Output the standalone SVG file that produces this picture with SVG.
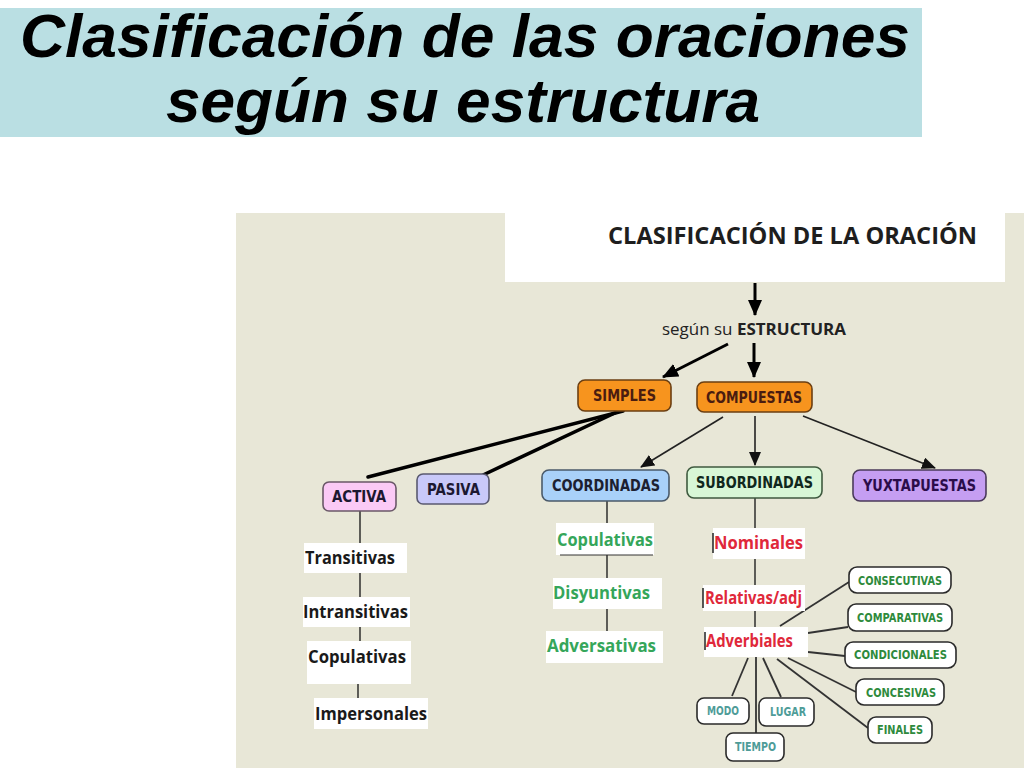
<svg xmlns="http://www.w3.org/2000/svg" width="1024" height="768" viewBox="0 0 1024 768">
<defs>
<style>
.title{font-family:"Liberation Sans",Arial,sans-serif;font-weight:bold;font-style:italic;font-size:62px;fill:#000}
.lbl{font-family:"DejaVu Sans",Verdana,sans-serif;font-weight:bold;font-size:15px}
.sm{font-family:"DejaVu Sans",Verdana,sans-serif;font-weight:bold;font-size:11.5px;fill:#2e8a3c}
.teal{fill:#4e9c98}
.cal{font-family:"Open Sans","Liberation Sans",sans-serif;font-weight:700;font-size:18px}
.blk{fill:#1a1a1a}
.grn{fill:#35a65a}
.red{fill:#e0283a}
.wbox{fill:#ffffff}
.box{stroke-width:1.6}
.sbox{fill:#ffffff;stroke:#2a2a2a;stroke-width:1.6}
.thick{stroke:#000;stroke-width:3.5;fill:none;stroke-linecap:round}
.arrowT{stroke:#000;stroke-width:3;fill:none}
.arrowt{stroke:#222;stroke-width:1.6;fill:none}
.ln{stroke:#222;stroke-width:1.4;fill:none}
.ln2{stroke:#333;stroke-width:1.8;fill:none}
</style>
<marker id="hb" markerUnits="userSpaceOnUse" markerWidth="16" markerHeight="14" refX="15" refY="7" orient="auto">
<path d="M0,0 L16,7 L0,14 z" fill="#000"/>
</marker>
<marker id="hs" markerUnits="userSpaceOnUse" markerWidth="14" markerHeight="12" refX="13" refY="6" orient="auto">
<path d="M0,0 L14,6 L0,12 z" fill="#111"/>
</marker>
</defs>

<rect x="0" y="0" width="1024" height="768" fill="#ffffff"/>

<g id="title">
<rect x="0" y="8" width="922" height="129" fill="#badfe3"/>
<text class="title" x="20" y="57" textLength="890" lengthAdjust="spacingAndGlyphs">Clasificación de las oraciones</text>
<text class="title" x="166" y="122" textLength="594" lengthAdjust="spacingAndGlyphs">según su estructura</text>
</g>

<rect id="panel" x="236" y="213" width="788" height="555" fill="#e8e7d7"/>

<g id="connectors">
<line class="arrowT" x1="755" y1="283" x2="755" y2="315" marker-end="url(#hb)"/>
<line class="arrowT" x1="754" y1="343" x2="754" y2="377" marker-end="url(#hb)"/>
<line class="arrowT" x1="728" y1="344" x2="663" y2="377" stroke-width="2.5" marker-end="url(#hb)"/>
<line class="thick" x1="623" y1="411" x2="368" y2="477"/>
<line class="thick" x1="617" y1="412" x2="483" y2="475"/>
<line class="arrowt" x1="723" y1="417" x2="641" y2="467" marker-end="url(#hs)"/>
<line class="arrowt" x1="755" y1="416" x2="755" y2="465" marker-end="url(#hs)"/>
<line class="arrowt" x1="803" y1="416" x2="935" y2="468" marker-end="url(#hs)"/>
<line class="ln" x1="360" y1="511" x2="360" y2="543"/>
<line class="ln" x1="360" y1="573" x2="360" y2="597"/>
<line class="ln" x1="360" y1="627" x2="360" y2="641"/>
<line class="ln" x1="358" y1="684" x2="358" y2="698"/>
<line class="ln" x1="607" y1="501" x2="607" y2="525"/>
<line class="ln" x1="607" y1="555" x2="607" y2="578"/>
<line class="ln" x1="607" y1="609" x2="607" y2="631"/>
<line class="ln" x1="755" y1="498" x2="755" y2="528"/>
<line class="ln" x1="755" y1="559" x2="755" y2="585"/>
<line class="ln" x1="755" y1="611" x2="755" y2="627"/>
<line class="ln2" x1="780" y1="626" x2="849" y2="582"/>
<line class="ln2" x1="808" y1="633" x2="848" y2="627"/>
<line class="ln2" x1="808" y1="652" x2="845" y2="656"/>
<line class="ln2" x1="788" y1="658" x2="856" y2="692"/>
<line class="ln2" x1="777" y1="659" x2="868" y2="728"/>
<line class="ln2" x1="748" y1="658" x2="732" y2="696"/>
<line class="ln2" x1="756" y1="657" x2="756" y2="733"/>
<line class="ln2" x1="763" y1="658" x2="781" y2="697"/>
</g>

<g id="clasificacion">
<rect x="505" y="213" width="500" height="69" fill="#ffffff"/>
<text x="608" y="244" font-family="'Open Sans','Liberation Sans',sans-serif" font-weight="700" font-size="23" fill="#1e1e1e" textLength="369" lengthAdjust="spacingAndGlyphs">CLASIFICACIÓN DE LA ORACIÓN</text>
</g>

<g id="segun">
<text x="662" y="335" font-family="'Open Sans','Liberation Sans',sans-serif" font-size="15.5" fill="#222" textLength="184" lengthAdjust="spacingAndGlyphs">según su <tspan font-weight="700">ESTRUCTURA</tspan></text>
</g>

<g id="simples">
<rect class="box" x="578" y="380" width="93" height="31" rx="7" fill="#f7941e" stroke="#6b3f12"/>
<text class="lbl" x="593" y="401" fill="#4a1c10" textLength="63" lengthAdjust="spacingAndGlyphs">SIMPLES</text>
</g>
<g id="compuestas">
<rect class="box" x="697" y="382" width="115" height="30" rx="7" fill="#f7941e" stroke="#6b3f12"/>
<text class="lbl" x="706" y="403" fill="#4a1c10" textLength="96" lengthAdjust="spacingAndGlyphs">COMPUESTAS</text>
</g>
<g id="activa">
<rect class="box" x="323" y="482" width="73" height="29" rx="6" fill="#fbcaf6" stroke="#6a5868"/>
<text class="lbl" x="332" y="502" fill="#1c1830" textLength="54" lengthAdjust="spacingAndGlyphs">ACTIVA</text>
</g>
<g id="pasiva">
<rect class="box" x="417" y="474" width="72" height="30" rx="6" fill="#c9c9f9" stroke="#5a5a70"/>
<text class="lbl" x="427" y="495" fill="#1c1830" textLength="53" lengthAdjust="spacingAndGlyphs">PASIVA</text>
</g>
<g id="coordinadas">
<rect class="box" x="542" y="470" width="127" height="31" rx="7" fill="#a9d1f9" stroke="#4a5a6a"/>
<text class="lbl" x="552" y="491" fill="#1c2030" textLength="108" lengthAdjust="spacingAndGlyphs">COORDINADAS</text>
</g>
<g id="subordinadas">
<rect class="box" x="687" y="467" width="135" height="31" rx="7" fill="#d8f7d6" stroke="#3f5a3f"/>
<text class="lbl" x="696" y="488" fill="#10281c" textLength="117" lengthAdjust="spacingAndGlyphs">SUBORDINADAS</text>
</g>
<g id="yuxtapuestas">
<rect class="box" x="853" y="470" width="133" height="31" rx="7" fill="#c59ef2" stroke="#4a3a5a"/>
<text class="lbl" x="863" y="491" fill="#2a0c4a" textLength="113" lengthAdjust="spacingAndGlyphs">YUXTAPUESTAS</text>
</g>

<g id="transitivas">
<rect class="wbox" x="304" y="543" width="103" height="30"/>
<text class="cal blk" x="305" y="564" textLength="90" lengthAdjust="spacingAndGlyphs">Transitivas</text>
</g>
<g id="intransitivas">
<rect class="wbox" x="303" y="597" width="107" height="30"/>
<text class="cal blk" x="303" y="618" textLength="105" lengthAdjust="spacingAndGlyphs">Intransitivas</text>
</g>
<g id="copulativas-s">
<rect class="wbox" x="307" y="641" width="104" height="43"/>
<text class="cal blk" x="308" y="663" textLength="98" lengthAdjust="spacingAndGlyphs">Copulativas</text>
</g>
<g id="impersonales">
<rect class="wbox" x="314" y="698" width="114" height="31"/>
<text class="cal blk" x="315" y="720" textLength="112" lengthAdjust="spacingAndGlyphs">Impersonales</text>
</g>

<g id="copulativas-c">
<rect class="wbox" x="556" y="523" width="98" height="32"/>
<line x1="560" y1="555" x2="653" y2="555" stroke="#333" stroke-width="1"/>
<text class="cal grn" x="557" y="546" font-size="19" textLength="96" lengthAdjust="spacingAndGlyphs">Copulativas</text>
</g>
<g id="disyuntivas">
<rect class="wbox" x="553" y="578" width="109" height="31"/>
<text class="cal grn" x="553" y="599" font-size="19" textLength="97" lengthAdjust="spacingAndGlyphs">Disyuntivas</text>
</g>
<g id="adversativas">
<rect class="wbox" x="546" y="631" width="117" height="32"/>
<text class="cal grn" x="547" y="652" font-size="19" textLength="109" lengthAdjust="spacingAndGlyphs">Adversativas</text>
</g>

<g id="nominales">
<rect class="wbox" x="713" y="528" width="92" height="31"/>
<line x1="713" y1="533" x2="713" y2="553" stroke="#222" stroke-width="1.5"/>
<text class="cal red" x="714" y="549" font-size="20" textLength="89" lengthAdjust="spacingAndGlyphs">Nominales</text>
</g>
<g id="relativas">
<rect class="wbox" x="703" y="585" width="102" height="26"/>
<line x1="703" y1="588" x2="703" y2="608" stroke="#222" stroke-width="1.5"/>
<text class="cal red" x="705" y="604" font-size="18" textLength="97" lengthAdjust="spacingAndGlyphs">Relativas/adj</text>
</g>
<g id="adverbiales">
<rect class="wbox" x="704" y="627" width="104" height="30"/>
<line x1="705" y1="632" x2="705" y2="650" stroke="#222" stroke-width="1.5"/>
<text class="cal red" x="706" y="647" font-size="18" textLength="87" lengthAdjust="spacingAndGlyphs">Adverbiales</text>
</g>

<g id="consecutivas">
<rect class="sbox" x="849" y="567" width="102" height="26" rx="8"/>
<text class="sm" x="858" y="585" textLength="84" lengthAdjust="spacingAndGlyphs">CONSECUTIVAS</text>
</g>
<g id="comparativas">
<rect class="sbox" x="848" y="604" width="104" height="27" rx="8"/>
<text class="sm" x="857" y="622" textLength="86" lengthAdjust="spacingAndGlyphs">COMPARATIVAS</text>
</g>
<g id="condicionales">
<rect class="sbox" x="845" y="642" width="111" height="26" rx="8"/>
<text class="sm" x="854" y="659" textLength="93" lengthAdjust="spacingAndGlyphs">CONDICIONALES</text>
</g>
<g id="concesivas">
<rect class="sbox" x="856" y="679" width="88" height="26" rx="8"/>
<text class="sm" x="866" y="697" textLength="70" lengthAdjust="spacingAndGlyphs">CONCESIVAS</text>
</g>
<g id="finales">
<rect class="sbox" x="868" y="717" width="64" height="26" rx="8"/>
<text class="sm" x="877" y="734" textLength="46" lengthAdjust="spacingAndGlyphs">FINALES</text>
</g>
<g id="modo">
<rect class="sbox" x="697" y="698" width="52" height="26" rx="7"/>
<text class="sm teal" x="707" y="715" textLength="32" lengthAdjust="spacingAndGlyphs">MODO</text>
</g>
<g id="lugar">
<rect class="sbox" x="759" y="698" width="55" height="28" rx="7"/>
<text class="sm teal" x="770" y="716" textLength="36" lengthAdjust="spacingAndGlyphs">LUGAR</text>
</g>
<g id="tiempo">
<rect class="sbox" x="726" y="733" width="58" height="28" rx="7"/>
<text class="sm teal" x="735" y="751" textLength="41" lengthAdjust="spacingAndGlyphs">TIEMPO</text>
</g>
</svg>
